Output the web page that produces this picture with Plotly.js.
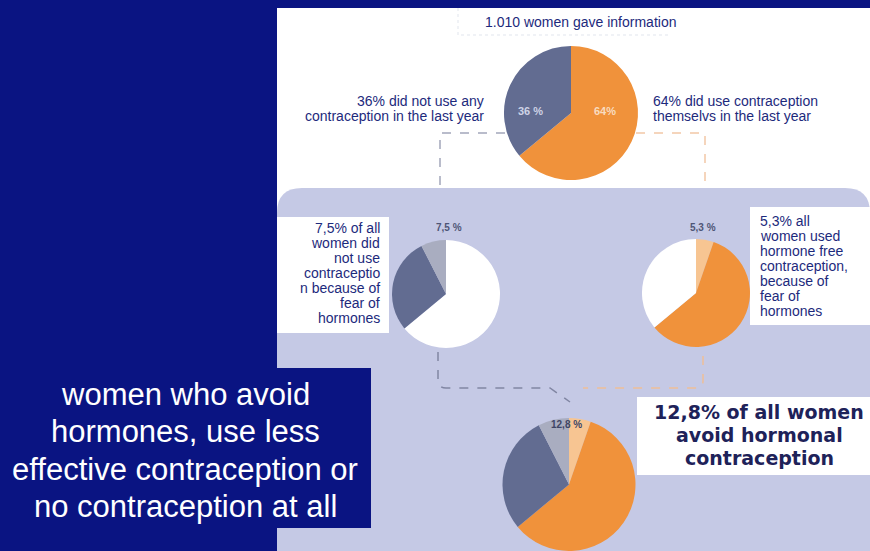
<!DOCTYPE html>
<html><head><meta charset="utf-8">
<script src="https://cdn.plot.ly/plotly-3.0.1.min.js"></script>
<style>html,body{margin:0;padding:0;background:#0a1482;}#chart{width:870px;height:551px;}</style>
</head><body><div id="chart"></div>
<script>
// ---- data ----
const topSlices = ['used contraception', 'no contraception'];
const topValues = [64, 36];
const midLeftSlices = ['used contraception', 'no contraception, other reasons', 'no contraception, fear of hormones'];
const midLeftValues = [64, 28.5, 7.5];
const midRightSlices = ['hormone free, fear of hormones', 'other contraception', 'no contraception'];
const midRightValues = [5.3, 58.7, 36];
const bottomSlices = ['hormone free, fear of hormones', 'other contraception', 'no contraception, other reasons', 'no contraception, fear of hormones'];
const bottomValues = [5.3, 58.7, 28.5, 7.5];

const topPieText = ['64%', '36 %'];
const midLeftPieText = '7,5 %';
const midRightPieText = '5,3 %';
const bottomPieText = '12,8 %';

const titleText = '1.010 women gave information';
const leftTopLabel = ['36% did not use any', 'contraception in the last year'];
const rightTopLabel = ['64% did use contraception', 'themselvs in the last year'];
const leftMidLabel = ['7,5% of all', 'women did', 'not use', 'contraceptio', 'n because of', 'fear of', 'hormones'];
const rightMidLabel = ['5,3% all', 'women used', 'hormone free', 'contraception,', 'because of', 'fear of', 'hormones'];
const sideText = ['women who avoid', 'hormones, use less', 'effective contraception or', 'no contraception at all'];
const resultText = ['12,8% of all women', 'avoid hormonal', 'contraception'];

// ---- styles ----
const NAVY = '#0a1482', ORANGE = '#f0923b', SLATE = '#626c91', LIGHTGRAY = '#a9adc0', PEACH = '#f7c592', WHITE = '#ffffff', LAV = '#c5c9e5';
const W = 870, H = 551;
const fx = x => x / W, fy = y => 1 - y / H;
function dom(cx, cy, r) { return {x: [fx(cx - r), fx(cx + r)], y: [fy(cy + r), fy(cy - r)]}; }
function pie(labels, values, colors, d) {
  return {type: 'pie', labels, values, sort: false, direction: 'clockwise', rotation: 0,
    marker: {colors, line: {width: 0}}, textinfo: 'none', hoverinfo: 'skip', domain: d, showlegend: false};
}
const data = [
  pie(topSlices, topValues, [ORANGE, SLATE], dom(571, 113, 67)),
  pie(midLeftSlices, midLeftValues, [WHITE, SLATE, LIGHTGRAY], dom(446, 294, 54)),
  pie(midRightSlices, midRightValues, [PEACH, ORANGE, WHITE], dom(696, 293, 54)),
  pie(bottomSlices, bottomValues, [PEACH, ORANGE, SLATE, LIGHTGRAY], dom(569, 485, 67))
];

function rect(x0, y0, x1, y1, color, extra) {
  return Object.assign({type: 'rect', xref: 'paper', yref: 'paper', x0: fx(x0), x1: fx(x1), y0: fy(y1), y1: fy(y0),
    fillcolor: color, line: {width: 0}, layer: 'below'}, extra || {});
}
function P(x, y) { return fx(x) + ',' + fy(y); }
function path(d, color, dash, width) {
  return {type: 'path', xref: 'paper', yref: 'paper', path: d, line: {color, width: width || 1.5, dash: dash || 'dash'}, layer: 'below'};
}
const lavPath = 'M' + P(277, 551) + ' L' + P(277, 213) + ' Q' + P(277, 188) + ' ' + P(302, 188) +
  ' L' + P(845, 188) + ' Q' + P(870, 188) + ' ' + P(870, 213) + ' L' + P(870, 551) + ' Z';
const shapes = [
  rect(277, 8, 870, 551, WHITE),
  path('M' + P(458, 8) + ' L' + P(458, 35) + ' L' + P(668, 35), '#eceef3', 'dot', 1.5),
  path('M' + P(505, 133) + ' L' + P(440, 133) + ' L' + P(440, 190), '#a3a7bb'),
  path('M' + P(636, 133) + ' L' + P(705, 133) + ' L' + P(705, 190), '#f2c8a6'),
  {type: 'path', xref: 'paper', yref: 'paper', path: lavPath, fillcolor: LAV, line: {width: 0}, layer: 'below'},
  path('M' + P(438, 352) + ' L' + P(438, 380) + ' Q' + P(438, 388) + ' ' + P(446, 388) + ' L' + P(550, 388) + ' L' + P(570, 402), '#8186a3'),
  path('M' + P(703, 356) + ' L' + P(703, 381) + ' Q' + P(703, 388) + ' ' + P(696, 388) + ' L' + P(583, 388), '#eebf98'),
  rect(277, 217, 389, 333, WHITE),
  rect(750, 207, 870, 325, WHITE),
  rect(637, 397, 870, 475, WHITE),
  rect(0, 368, 371, 528, NAVY)
];

const FONT = 'Liberation Sans, Arial, sans-serif';
const annotations = [];
function txt(text, x, y, anchor, size, color, family) {
  annotations.push({text, xref: 'paper', yref: 'paper', x: fx(x), y: fy(y), xanchor: anchor, yanchor: 'middle',
    showarrow: false, borderpad: 0, font: {family: family || FONT, size, color}});
}
txt(titleText, 580, 22, 'center', 14, '#1d2a7c');
leftTopLabel.forEach((t, i) => txt(t, 485, 101 + i * 15, 'right', 14, '#1d2a7c'));
rightTopLabel.forEach((t, i) => txt(t, 652, 101 + i * 15, 'left', 14, '#1d2a7c'));
leftMidLabel.forEach((t, i) => txt(t, 381, 228 + i * 15, 'right', 14, '#1d2a7c'));
rightMidLabel.forEach((t, i) => txt(t, 759, 221 + i * 15, 'left', 14, '#1d2a7c'));
sideText.forEach((t, i) => txt(t, 185, 394 + i * 37.5, 'center', 31, '#ffffff'));
resultText.forEach((t, i) => txt('<b>' + t + '</b>', 759, 412 + i * 23, 'center', 19, '#1e2259', 'DejaVu Sans, sans-serif'));
txt('<b>' + topPieText[1] + '</b>', 530, 111, 'center', 11, '#cfd3e6');
txt('<b>' + topPieText[0] + '</b>', 605, 111, 'center', 11, '#f8dcc0');
txt('<b>' + midLeftPieText + '</b>', 449, 228, 'center', 10, '#4f5576');
txt('<b>' + midRightPieText + '</b>', 703, 228, 'center', 10, '#4f5576');
txt('<b>' + bottomPieText + '</b>', 566, 424, 'center', 10, '#3f4566');

const layout = {width: W, height: H, margin: {l: 0, r: 0, t: 0, b: 0}, paper_bgcolor: NAVY, plot_bgcolor: NAVY,
  showlegend: false, shapes, annotations};
Plotly.newPlot('chart', data, layout, {displayModeBar: false, staticPlot: true});
</script></body></html>
